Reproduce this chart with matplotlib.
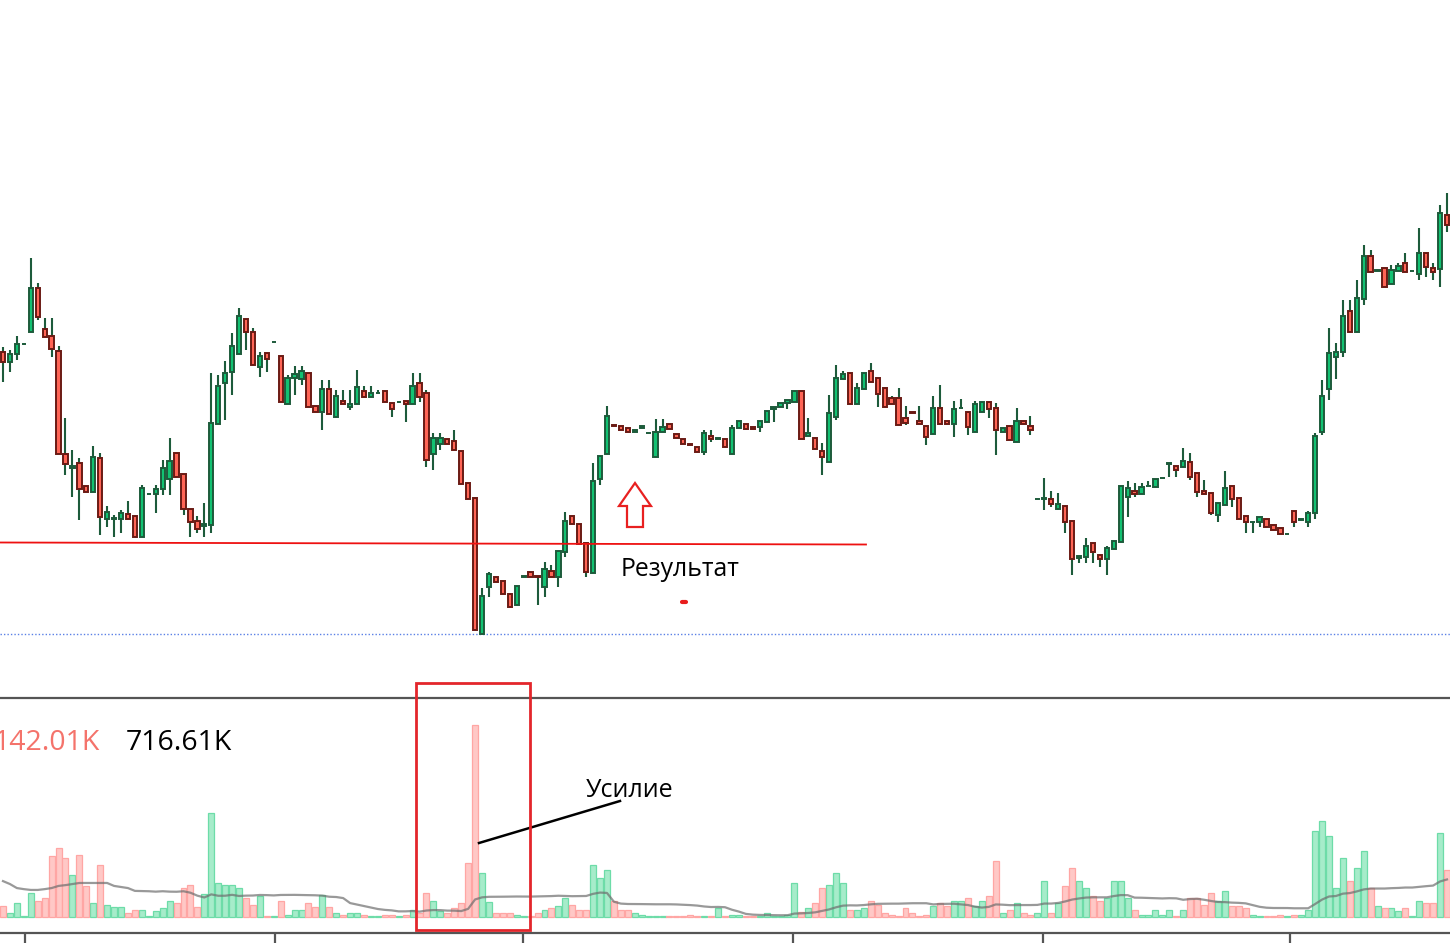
import matplotlib
matplotlib.use("Agg")
import matplotlib.pyplot as plt
import numpy as np
import pandas as pd
from matplotlib.lines import Line2D
from matplotlib.patches import Rectangle, Polygon

plt.rcParams['font.family'] = ['Open Sans', 'DejaVu Sans']

# ---------------- data ----------------
opens = [
    348, 338, 346, 356, 368, 412, 371, 364, 349, 246,   # 0
    232, 237, 214, 208, 242, 181, 181, 181, 186, 184,   # 10
    163, 206, 206, 211, 221, 247, 226, 191, 179, 174,   # 20
    175, 276, 317, 328, 346, 381, 368, 333, 347, 358,   # 30
    344, 296, 322, 321, 327, 294, 288, 311, 283, 299,   # 40
    293, 296, 309, 303, 307, 309, 297, 298, 299, 296,   # 50
    317, 307, 246, 256, 261, 259, 249, 217, 202, 66,    # 60
    113, 123, 119, 106, 95, 123, 128, 124, 113, 129,    # 70
    123, 148, 184, 176, 157, 127, 221, 246, 275, 274,   # 80
    272, 268, 272, 267, 243, 268, 276, 266, 261, 256,   # 90
    253, 248, 264, 261, 261, 246, 272, 276, 273, 273,   # 100
    278, 291, 293, 297, 298, 309, 264, 262, 249, 238,   # 110
    283, 321, 327, 296, 311, 329, 322, 312, 302, 302,   # 120
    282, 288, 279, 274, 266, 292, 279, 276, 292, 288,   # 130
    268, 288, 298, 292, 268, 274, 258, 279, 274, 201,   # 140
    201, 201, 191, 194, 179, 142, 143, 157, 145, 141,   # 150
    151, 158, 203, 209, 206, 214, 213, 222, 236, 234,   # 160
    233, 238, 227, 209, 207, 185, 195, 214, 202, 184,   # 170
    178, 178, 181, 175, 172, 166, 189, 180, 178, 187,   # 180
    268, 311, 343, 348, 389, 368, 401, 444, 429, 432,   # 190
    416, 429, 437, 429, 426, 447, 432, 431, 485,        # 200
]
highs = [
    353, 350, 364, 357, 442, 417, 382, 382, 354, 282,
    250, 242, 214, 254, 247, 194, 185, 190, 199, 184,
    215, 206, 215, 240, 262, 247, 226, 191, 184, 197,
    327, 325, 339, 367, 392, 381, 372, 348, 347, 358,
    344, 325, 334, 334, 327, 294, 320, 320, 310, 310,
    310, 330, 314, 314, 310, 309, 297, 298, 299, 327,
    327, 310, 267, 267, 261, 270, 249, 217, 202, 112,
    128, 123, 119, 106, 114, 124, 128, 124, 138, 135,
    149, 188, 184, 176, 157, 237, 244, 294, 275, 274,
    272, 270, 274, 267, 281, 281, 276, 266, 261, 256,
    253, 270, 270, 262, 261, 275, 279, 276, 273, 279,
    289, 293, 297, 300, 309, 309, 282, 262, 257, 305,
    335, 329, 327, 317, 327, 337, 322, 312, 304, 312,
    294, 288, 294, 274, 304, 315, 279, 299, 301, 288,
    299, 298, 298, 297, 272, 274, 292, 279, 284, 201,
    222, 209, 207, 194, 179, 144, 162, 157, 145, 154,
    159, 214, 219, 217, 217, 219, 221, 222, 237, 234,
    252, 247, 227, 220, 207, 197, 229, 214, 202, 184,
    178, 183, 181, 175, 172, 166, 189, 181, 189, 267,
    320, 372, 357, 400, 400, 420, 455, 450, 430, 432,
    435, 437, 447, 429, 472, 447, 437, 495, 507,
]
lows = [
    318, 328, 340, 355, 368, 380, 363, 343, 246, 225,
    203, 180, 208, 208, 165, 173, 163, 167, 181, 163,
    163, 206, 187, 205, 205, 223, 185, 163, 167, 163,
    167, 276, 280, 305, 346, 350, 335, 323, 328, 358,
    298, 296, 305, 315, 293, 288, 270, 286, 283, 296,
    290, 296, 303, 303, 307, 298, 283, 298, 278, 296,
    298, 233, 230, 250, 256, 250, 216, 201, 70, 66,
    103, 118, 106, 93, 95, 123, 123, 95, 103, 123,
    113, 143, 176, 156, 123, 127, 215, 246, 274, 270,
    268, 268, 272, 267, 243, 268, 271, 262, 256, 255,
    248, 245, 258, 261, 253, 246, 272, 271, 271, 268,
    278, 278, 293, 291, 298, 261, 264, 251, 225, 238,
    280, 321, 296, 296, 311, 318, 293, 293, 296, 275,
    275, 287, 276, 255, 266, 276, 276, 263, 292, 265,
    268, 288, 282, 245, 268, 260, 258, 276, 265, 201,
    190, 193, 190, 167, 125, 137, 137, 137, 133, 125,
    151, 158, 183, 203, 206, 214, 213, 222, 223, 223,
    233, 220, 203, 206, 185, 178, 195, 193, 181, 167,
    167, 173, 173, 170, 166, 166, 173, 180, 173, 181,
    265, 300, 321, 343, 368, 368, 395, 428, 429, 413,
    416, 429, 428, 429, 420, 423, 420, 413, 468,
]
closes = [
    338, 346, 356, 356, 412, 383, 363, 351, 246, 236,
    234, 211, 208, 243, 183, 188, 182, 187, 181, 163,
    212, 206, 211, 232, 239, 223, 191, 178, 171, 176,
    277, 314, 327, 354, 384, 368, 335, 344, 341, 358,
    298, 322, 326, 329, 293, 288, 311, 286, 304, 296,
    296, 313, 303, 307, 307, 298, 291, 298, 296, 314,
    303, 240, 262, 262, 256, 250, 216, 201, 70, 104,
    126, 118, 106, 93, 114, 124, 123, 123, 131, 123,
    149, 179, 176, 156, 128, 219, 244, 284, 274, 270,
    268, 270, 274, 267, 268, 273, 271, 262, 256, 255,
    248, 267, 261, 262, 253, 272, 279, 271, 271, 279,
    289, 293, 297, 300, 309, 261, 267, 251, 243, 287,
    322, 326, 296, 312, 327, 318, 306, 293, 296, 275,
    277, 287, 276, 263, 292, 276, 276, 291, 292, 273,
    296, 298, 291, 270, 272, 260, 279, 276, 270, 201,
    202, 196, 196, 178, 141, 144, 154, 148, 141, 152,
    159, 214, 212, 206, 213, 214, 221, 222, 237, 230,
    239, 223, 208, 206, 187, 197, 212, 201, 181, 178,
    178, 183, 173, 170, 166, 166, 178, 181, 187, 264,
    304, 347, 348, 384, 368, 402, 444, 428, 430, 413,
    430, 434, 428, 429, 447, 433, 428, 487, 475,
]
volumes_k = [
    41, 15, 52, 4, 90, 60, 71, 228, 258, 220,
    157, 231, 116, 52, 194, 45, 37, 37, 15, 26,
    26, 4, 22, 34, 60, 52, 108, 119, 37, 86,
    388, 127, 119, 119, 108, 71, 45, 78, 4, 4,
    60, 7, 26, 26, 52, 37, 82, 37, 15, 7,
    15, 15, 7, 4, 4, 7, 7, 4, 7, 26,
    15, 90, 60, 22, 15, 34, 52, 202, 716.61, 164,
    56, 15, 15, 15, 7, 4, 4, 15, 26, 34,
    41, 71, 45, 26, 26, 194, 146, 175, 60, 26,
    26, 15, 7, 4, 4, 4, 4, 4, 4, 7,
    4, 4, 4, 34, 4, 7, 7, 4, 4, 4,
    15, 4, 4, 7, 127, 19, 34, 52, 108, 119,
    164, 127, 26, 26, 34, 60, 45, 15, 7, 4,
    34, 15, 4, 7, 41, 52, 41, 60, 60, 71,
    41, 60, 78, 209, 15, 26, 52, 15, 7, 15,
    134, 15, 52, 116, 183, 134, 108, 78, 60, 71,
    134, 134, 71, 26, 7, 7, 26, 7, 26, 4,
    26, 71, 71, 45, 90, 60, 97, 41, 41, 34,
    7, 4, 4, 4, 7, 4, 7, 7, 26, 321,
    358, 302, 108, 220, 134, 183, 246, 108, 41, 34,
    34, 22, 34, 4, 60, 52, 52, 314, 175,
]
# moving-average values for the first bars (window still reaching before the view)
vol_ma_lead_k = [134, 123, 108, 104, 101, 101, 104, 108, 116, 119,
                 123, 127, 127, 127, 127, 127, 116, 112, 108]
vol_ma_window = 20
label_left = "142.01K"
label_right = "716.61K"
label_result = "Результат"
label_effort = "Усилие"

# ---------------- layout ----------------
W, H = 1450, 943
fig = plt.figure(figsize=(W / 100, H / 100), dpi=100)
fig.patch.set_facecolor('white')

def fx(px):
    return px / W

def fy(py):
    return 1 - py / H

X0_PX = 3.0
STEP_PX = 1444.0 / 208

def ix(px):
    return (px - X0_PX) / STEP_PX

n = len(opens)
idx = np.arange(n)
o = np.array(opens, float)
c = np.array(closes, float)
hi = np.array(highs, float)
lo = np.array(lows, float)
up = c >= o

ax = fig.add_axes([0, fy(698), 1, 698 / H])
axv = fig.add_axes([0, fy(933), 1, (933 - 698) / H])

xlim = (ix(0), ix(W))
ax.set_xlim(*xlim)
ax.set_ylim(2, 700)
ax.axis('off')

wick_col = '#1d5b3b'
ax.vlines(idx, lo, hi, color=wick_col, lw=1.5, zorder=1)
body_b = np.minimum(o, c)
body_h = np.abs(c - o)
ax.bar(idx[up], body_h[up], bottom=body_b[up], width=0.62, color='#12c272',
       edgecolor='#1d5b3b', linewidth=1.4, zorder=2)
ax.bar(idx[~up], body_h[~up], bottom=body_b[~up], width=0.62, color='#ff6556',
       edgecolor='#6a1a14', linewidth=1.4, zorder=2)

# lowest low dotted line
ax.axhline(lo.min(), color='#5a80e6', lw=1.0, linestyle=(0, (1, 1.5)), zorder=0)

# ---------------- volume panel ----------------
v = np.array(volumes_k, float)
k_per_px = 716.61 / 192.0
axv.set_xlim(*xlim)
axv.set_ylim(-16 * k_per_px, 219 * k_per_px)
axv.bar(idx[up], v[up], width=0.86, color='#a6ecca', edgecolor='#6ddca8', linewidth=0.9, zorder=1)
axv.bar(idx[~up], v[~up], width=0.86, color='#ffc8c6', edgecolor='#ffa6a4', linewidth=0.9, zorder=1)
ma = pd.Series(v).rolling(vol_ma_window).mean().to_numpy()
ma[:len(vol_ma_lead_k)] = vol_ma_lead_k
axv.plot(idx, ma, color='#6e6e6e', alpha=0.7, lw=1.6, zorder=3)

for s in ['left', 'right']:
    axv.spines[s].set_visible(False)
for s in ['top', 'bottom']:
    axv.spines[s].set_color('#555555')
    axv.spines[s].set_linewidth(1.6)
axv.set_yticks([])
axv.set_xticks([ix(p) for p in (25, 275, 523, 793, 1043, 1290)])
axv.tick_params(axis='x', direction='out', length=8, width=1.6, color='#555555',
                labelbottom=False)
axv.patch.set_alpha(0)

# ---------------- annotations ----------------
fig.add_artist(Line2D([fx(0), fx(866)], [fy(542.5), fy(544.5)], color='#ee1111', lw=1.3))

arrow_px = [(635, 483), (651, 506), (643, 506), (643, 527), (627, 527), (627, 506), (619, 506)]
fig.add_artist(Polygon([(fx(a), fy(b)) for a, b in arrow_px], closed=True,
                       facecolor='white', edgecolor='#e82020', lw=1.6,
                       transform=fig.transFigure))
fig.add_artist(Line2D([fx(682), fx(686)], [fy(602), fy(602)], color='#e81c1c', lw=3,
                      solid_capstyle='round'))

fig.text(fx(621), fy(576), label_result, fontsize=17.8, color='black', ha='left', va='baseline')
fig.text(fx(586), fy(797), label_effort, fontsize=18.0, color='black', ha='left', va='baseline')
fig.add_artist(Line2D([fx(479), fx(620)], [fy(843), fy(801)], color='black', lw=1.8))

fig.add_artist(Rectangle((fx(416), fy(930)), (530 - 416) / W, (930 - 683) / H,
                         transform=fig.transFigure, fill=False, edgecolor='#e3262b', lw=2.0,
                         zorder=10))

fig.text(fx(100), fy(750), label_left, fontsize=20.5, color='#f4736b', ha='right', va='baseline')
fig.text(fx(126), fy(750), label_right, fontsize=20.5, color='black', ha='left', va='baseline')

fig.savefig('out.png', dpi=100, facecolor='white')
